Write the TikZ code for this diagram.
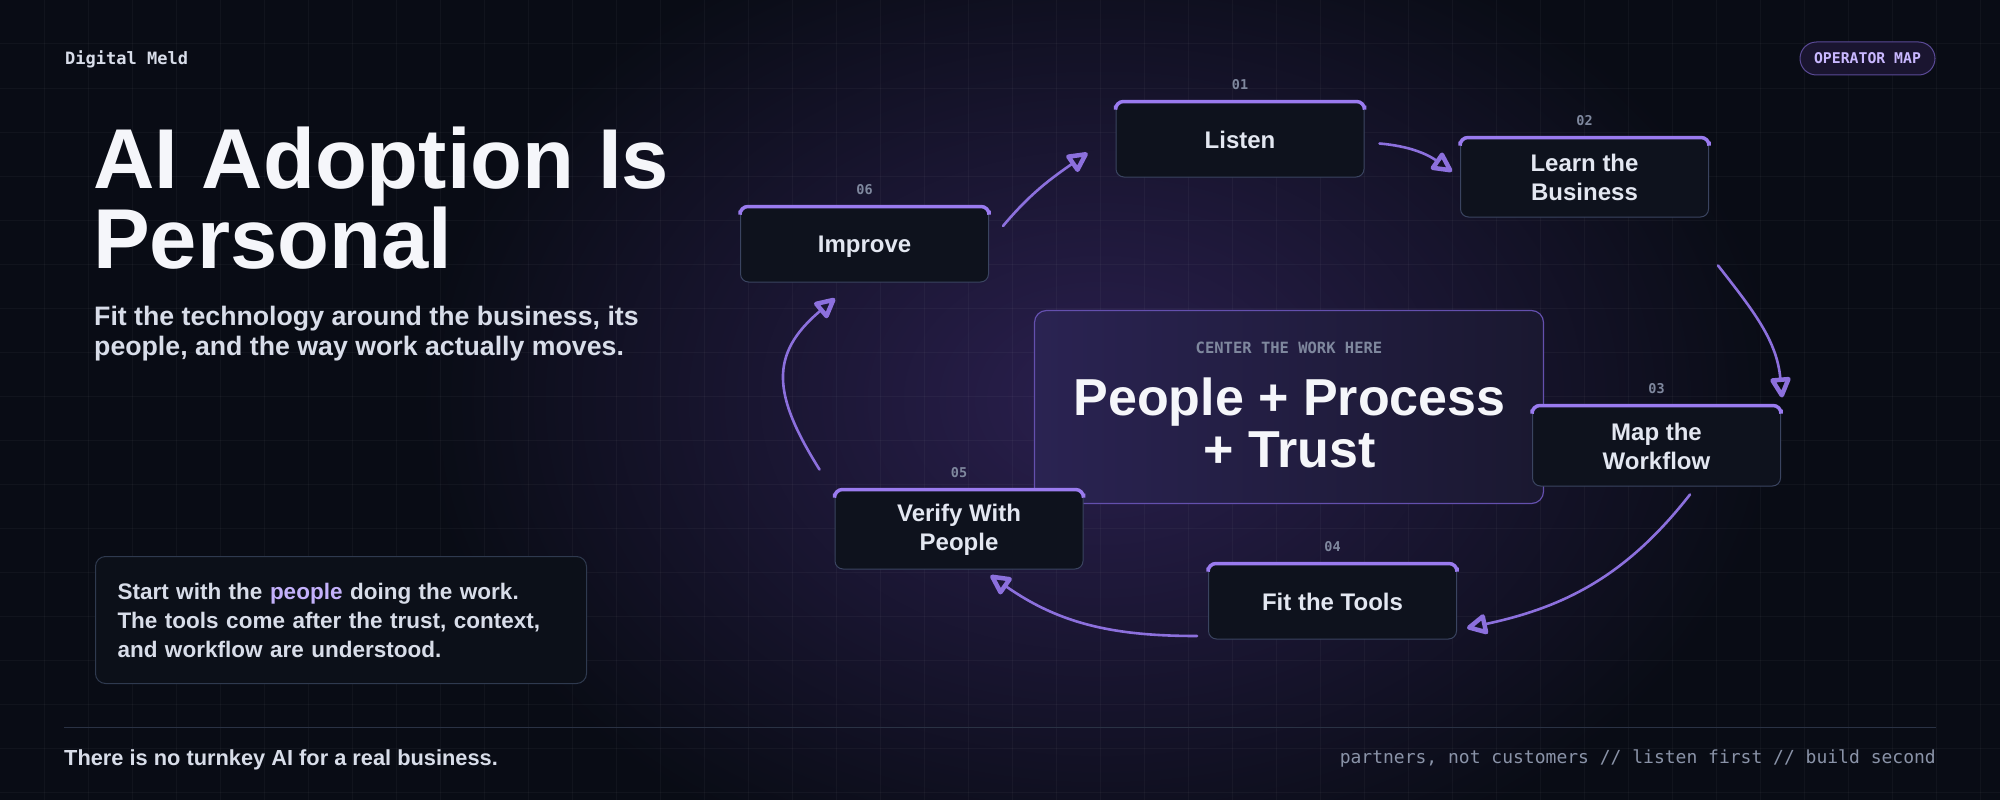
\documentclass[tikz,border=0pt]{standalone}
\usepackage{fontspec}
\setmainfont{Liberation Sans}
\setmonofont{DejaVu Sans Mono}
\usetikzlibrary{positioning,arrows.meta}

\definecolor{bgdark}{HTML}{090C15}
\definecolor{glowpurple}{HTML}{2A1F4E}
\definecolor{accent}{HTML}{9A7BEF}
\definecolor{flowpurple}{HTML}{8C70DD}
\definecolor{stepedge}{HTML}{3A4460}
\definecolor{stepfill}{HTML}{0E121D}
\definecolor{steptext}{HTML}{E3E7F1}
\definecolor{numgray}{HTML}{7F889E}
\definecolor{corehi}{HTML}{2A2352}
\definecolor{corelo}{HTML}{1A1830}
\definecolor{coreedge}{HTML}{6450AE}
\definecolor{softwhite}{HTML}{D8DDE9}
\definecolor{titlewhite}{HTML}{F5F6FA}
\definecolor{lavender}{HTML}{C4B1FB}
\definecolor{cardedge}{HTML}{2F3A4F}
\definecolor{cardfill}{HTML}{0C1019}
\definecolor{pillfill}{HTML}{1A1530}
\definecolor{pilledge}{HTML}{5A4A96}
\definecolor{pilltext}{HTML}{C9B8FF}
\definecolor{rulecol}{HTML}{2A3244}
\definecolor{footgray}{HTML}{8A93A8}

\newcommand{\pxfont}[2]{\fontsize{#1}{#2}\selectfont}

\begin{document}
\begin{tikzpicture}[x=1pt,y=-1pt,
    stepbox/.style={draw=stepedge, line width=1pt, fill=stepfill, rounded corners=8pt,
      minimum width=248pt, inner sep=0pt, align=center, text=steptext,
      font=\bfseries\pxfont{24}{29}},
    stepnum/.style={text=numgray, font=\ttfamily\bfseries\pxfont{13.5}{14}, inner sep=0pt},
    accentbar/.style={draw=accent, line width=3.5pt, rounded corners=8pt},
    flow/.style={draw=flowpurple, line width=2.6pt, line cap=round,
      -{Triangle[open,length=23pt,width=22pt,line width=4.5pt,round]}},
    plain/.style={inner sep=0pt, anchor=base west},
    card/.style={draw=cardedge, fill=cardfill, line width=1pt, rounded corners=10pt,
      inner xsep=22pt, text width=447pt, align=left, text=softwhite,
      font=\bfseries\pxfont{22.5}{29}},
    pill/.style={draw=pilledge, fill=pillfill, line width=1pt, rounded corners=16.5pt,
      minimum width=135pt, minimum height=33pt, inner sep=0pt, text=pilltext,
      font=\ttfamily\bfseries\pxfont{14.8}{16}},
    corebox/.style={draw=coreedge, line width=1.2pt, rounded corners=12pt,
      minimum width=509pt, minimum height=193pt, left color=corehi, right color=corelo},
    coretext/.style={inner sep=0pt, anchor=base, text=titlewhite,
      font=\bfseries\pxfont{52}{52}}]

    % background, glow and grid
    \fill[bgdark] (0,0) rectangle (2000,800);
    \useasboundingbox (0,0) rectangle (2000,800);
    \clip (0,0) rectangle (2000,800);
    \shade[inner color=glowpurple, outer color=bgdark] (1100,400) ellipse (680pt and 500pt);
    \foreach \gx in {44,88,...,1980}
        \draw[white, opacity=0.035, line width=1pt] (\gx,0) -- (\gx,800);
    \foreach \gy in {44,88,...,792}
        \draw[white, opacity=0.035, line width=1pt] (0,\gy) -- (2000,\gy);

    % header
    \node[plain, text=softwhite, font=\ttfamily\bfseries\pxfont{17}{18}] (brand) at (65,65) {Digital Meld};
    \node[pill] (opmap) at (1867.5,58.5) {OPERATOR MAP};

    % left column
    \node[plain, text=titlewhite, font=\bfseries\pxfont{85}{80}] (title1) at (93,188) {AI Adoption Is};
    \node[plain, text=titlewhite, font=\bfseries\pxfont{85}{80}] (title2) at (93,268) {Personal};
    \node[plain, text=softwhite, font=\bfseries\pxfont{26.7}{30}] (sub1) at (94,325) {Fit the technology around the business, its};
    \node[plain, text=softwhite, font=\bfseries\pxfont{26.7}{30}] (sub2) at (94,355) {people, and the way work actually moves.};
    \node[card, anchor=north west, minimum width=491pt, minimum height=127pt] (note) at (95,556)
        {Start with the \textcolor{lavender}{people} doing the work.\\The tools come after the trust, context,\\and workflow are understood.};

    % footer
    \draw[rulecol, line width=1pt] (64,727) -- (1936,727);
    \node[plain, text=softwhite, font=\bfseries\pxfont{21.8}{24}] (footl) at (64,765) {There is no turnkey AI for a real business.};
    \node[inner sep=0pt, anchor=base east, text=footgray, font=\ttfamily\pxfont{18}{20}] (footr) at (1936,763)
        {partners, not customers // listen first // build second};

    % center
    \node[corebox] (core) at (1289,407) {};
    \node[inner sep=0pt, anchor=base, text=numgray, font=\ttfamily\bfseries\pxfont{15.5}{16}] (coretag) at (1289,353) {CENTER THE WORK HERE};
    \node[coretext] (coreline1) at (1289.5,415) {People + Process};
    \node[coretext] (coreline2) at (1289.5,467) {+ Trust};

    % steps
    \node[stepbox, minimum height=75pt] (listen) at (1240,139.5) {Listen};
    \node[stepbox, minimum height=79pt] (learn) at (1584.5,177.5) {Learn the\\Business};
    \node[stepbox, minimum height=80pt] (mapflow) at (1656.5,446) {Map the\\Workflow};
    \node[stepbox, minimum height=75pt] (fittools) at (1332.5,601.5) {Fit the Tools};
    \node[stepbox, minimum height=79pt] (verify) at (959,529.5) {Verify With\\People};
    \node[stepbox, minimum height=75pt, text depth=0pt] (improve) at (864.5,244.5) {Improve};

    \foreach \s in {listen,learn,mapflow,fittools,verify,improve}
        \draw[accentbar] ([yshift=-4pt]\s.north west) |- (\s.north) -| ([yshift=-4pt]\s.north east);

    \node[stepnum, above=12pt of listen] (num1) {01};
    \node[stepnum, above=12pt of learn] (num2) {02};
    \node[stepnum, above=12pt of mapflow] (num3) {03};
    \node[stepnum, above=12pt of fittools] (num4) {04};
    \node[stepnum, above=12pt of verify] (num5) {05};
    \node[stepnum, above=12pt of improve] (num6) {06};

    % loop
    \draw[flow] ([xshift=14pt,yshift=18.5pt]improve.east) to[out=50,in=-145] ([xshift=-28pt,yshift=-13.5pt]listen.west);
    \draw[flow] ([xshift=15pt,yshift=-4pt]listen.east) to[out=-5,in=145] ([xshift=-8pt,yshift=6pt]learn.west);
    \draw[flow] ([xshift=9pt,yshift=-48pt]learn.south east) to[out=-52,in=95] ([xshift=1pt,yshift=8pt]mapflow.north east);
    \draw[flow] ([xshift=33.5pt,yshift=-8pt]mapflow.south) to[out=-128,in=12] ([xshift=10pt,yshift=-26.5pt]fittools.east);
    \draw[flow] ([xshift=-11pt,yshift=-34.5pt]fittools.west) to[out=180,in=-35] ([xshift=31.5pt,yshift=-6pt]verify.south);
    \draw[flow] ([xshift=-15pt,yshift=20pt]verify.north west) to[out=122,in=-140,looseness=1.3] ([xshift=-29.5pt,yshift=-16pt]improve.south);
\end{tikzpicture}
\end{document}
